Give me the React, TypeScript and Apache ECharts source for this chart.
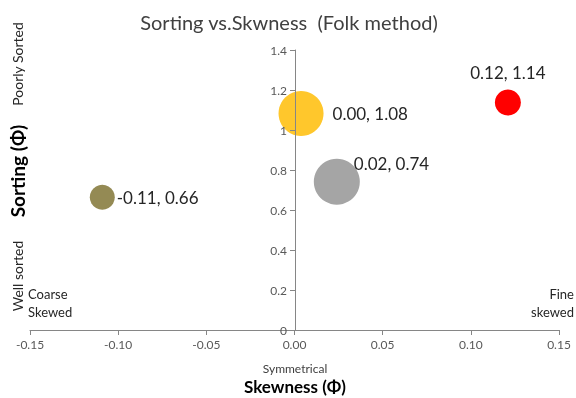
import React, { useEffect, useRef } from "react";
import * as echarts from "echarts";

const names = ["A", "B", "C", "D"];
const skewness = [0.0037, 0.121, 0.024, -0.109];
const sorting = [1.083, 1.137, 0.7415, 0.6635];
const bubbleSize = [45, 26, 46, 25];
const colors = ["#FFC72C", "#FF0000", "#A5A5A5", "#948A54"];
const xTicks = [-0.15, -0.1, -0.05, 0, 0.05, 0.1, 0.15];
const yTicks = [0, 0.2, 0.4, 0.6, 0.8, 1.0, 1.2, 1.4];

const FONT = "Lato";

export default function App() {
  const ref = useRef<HTMLDivElement>(null);
  useEffect(() => {
    if (!ref.current) return;
    const chart = echarts.init(ref.current, null, { renderer: "svg" });
    const labelCfg: any[] = [
      { position: "right", distance: 9 },
      { position: "top", distance: 9 },
      { position: [40, 5], align: "left", verticalAlign: "middle" },
      { position: "right", distance: 2 },
    ];
    const data = names.map((n, i) => ({
      name: n,
      value: [skewness[i], sorting[i], bubbleSize[i]],
      itemStyle: { color: colors[i], opacity: 1 },
      label: { show: true, ...labelCfg[i] },
    }));
    chart.setOption({
      animation: false,
      textStyle: { fontFamily: FONT },
      title: {
        text: "Sorting vs.Skwness  (Folk method)",
        left: 284,
        top: 7,
        textAlign: "center",
        textStyle: { fontFamily: FONT, fontSize: 20, fontWeight: "normal", color: "#404040" },
      },
      grid: { left: 30, right: 17, top: 50, bottom: 68, containLabel: false },
      xAxis: {
        type: "value",
        min: xTicks[0],
        max: xTicks[xTicks.length - 1],
        interval: 0.05,
        splitLine: { show: false },
        axisLine: { show: true, onZero: false, lineStyle: { color: "#868686" } },
        axisTick: { show: true, inside: false, length: 5, lineStyle: { color: "#868686" } },
        axisLabel: {
          color: "#595959",
          fontSize: 12,
          fontFamily: FONT,
          margin: 8,
          formatter: (v: number) => v.toFixed(2),
        },
      },
      yAxis: {
        type: "value",
        min: yTicks[0],
        max: yTicks[yTicks.length - 1],
        interval: 0.2,
        offset: -265,
        z: 5,
        splitLine: { show: false },
        axisLine: { show: true, onZero: false, lineStyle: { color: "#868686" } },
        axisTick: { show: true, inside: false, length: 5, lineStyle: { color: "#868686" } },
        axisLabel: {
          color: "#595959",
          fontSize: 12,
          fontFamily: FONT,
          margin: 8,
          formatter: (v: number) => (Math.abs(v - Math.round(v)) < 1e-9 ? String(Math.round(v)) : v.toFixed(1)),
        },
      },
      series: [
        {
          type: "scatter",
          symbolSize: (v: number[]) => v[2],
          data,
          label: {
            show: true,
            fontSize: 17,
            fontFamily: FONT,
            color: "#262626",
            formatter: (p: any) => `${p.value[0].toFixed(2)}, ${p.value[1].toFixed(2)}`,
          },
        },
      ],
      graphic: [
        {
          type: "text",
          x: 17,
          y: 171,
          rotation: Math.PI / 2,
          style: {
            text: "Sorting (Φ)",
            fontFamily: FONT,
            fontSize: 19,
            fontWeight: "bold",
            fill: "#000000",
            align: "center",
            verticalAlign: "middle",
          },
        },
        {
          type: "text",
          x: 17,
          y: 64,
          rotation: Math.PI / 2,
          style: {
            text: "Poorly Sorted",
            fontFamily: FONT,
            fontSize: 14,
            fill: "#262626",
            align: "center",
            verticalAlign: "middle",
          },
        },
        {
          type: "text",
          x: 17,
          y: 276,
          rotation: Math.PI / 2,
          style: {
            text: "Well sorted",
            fontFamily: FONT,
            fontSize: 14,
            fill: "#262626",
            align: "center",
            verticalAlign: "middle",
          },
        },
        {
          type: "text",
          x: 28,
          y: 285,
          style: {
            text: "Coarse\nSkewed",
            fontFamily: FONT,
            fontSize: 13,
            lineHeight: 18,
            fill: "#262626",
            align: "left",
            verticalAlign: "top",
          },
        },
        {
          type: "text",
          x: 574,
          y: 285,
          style: {
            text: "Fine\nskewed",
            fontFamily: FONT,
            fontSize: 13,
            lineHeight: 18,
            fill: "#262626",
            align: "right",
            verticalAlign: "top",
          },
        },
        {
          type: "text",
          x: 295,
          y: 368,
          style: {
            text: "Symmetrical",
            fontFamily: FONT,
            fontSize: 12,
            fill: "#404040",
            align: "center",
            verticalAlign: "middle",
          },
        },
        {
          type: "text",
          x: 295,
          y: 386,
          style: {
            text: "Skewness (Φ)",
            fontFamily: FONT,
            fontSize: 17,
            fontWeight: "bold",
            fill: "#000000",
            align: "center",
            verticalAlign: "middle",
          },
        },
      ],
    });
    return () => chart.dispose();
  }, []);
  return <div ref={ref} style={{ width: 576, height: 398, position: "fixed", left: 0, top: 0 }} />;
}
